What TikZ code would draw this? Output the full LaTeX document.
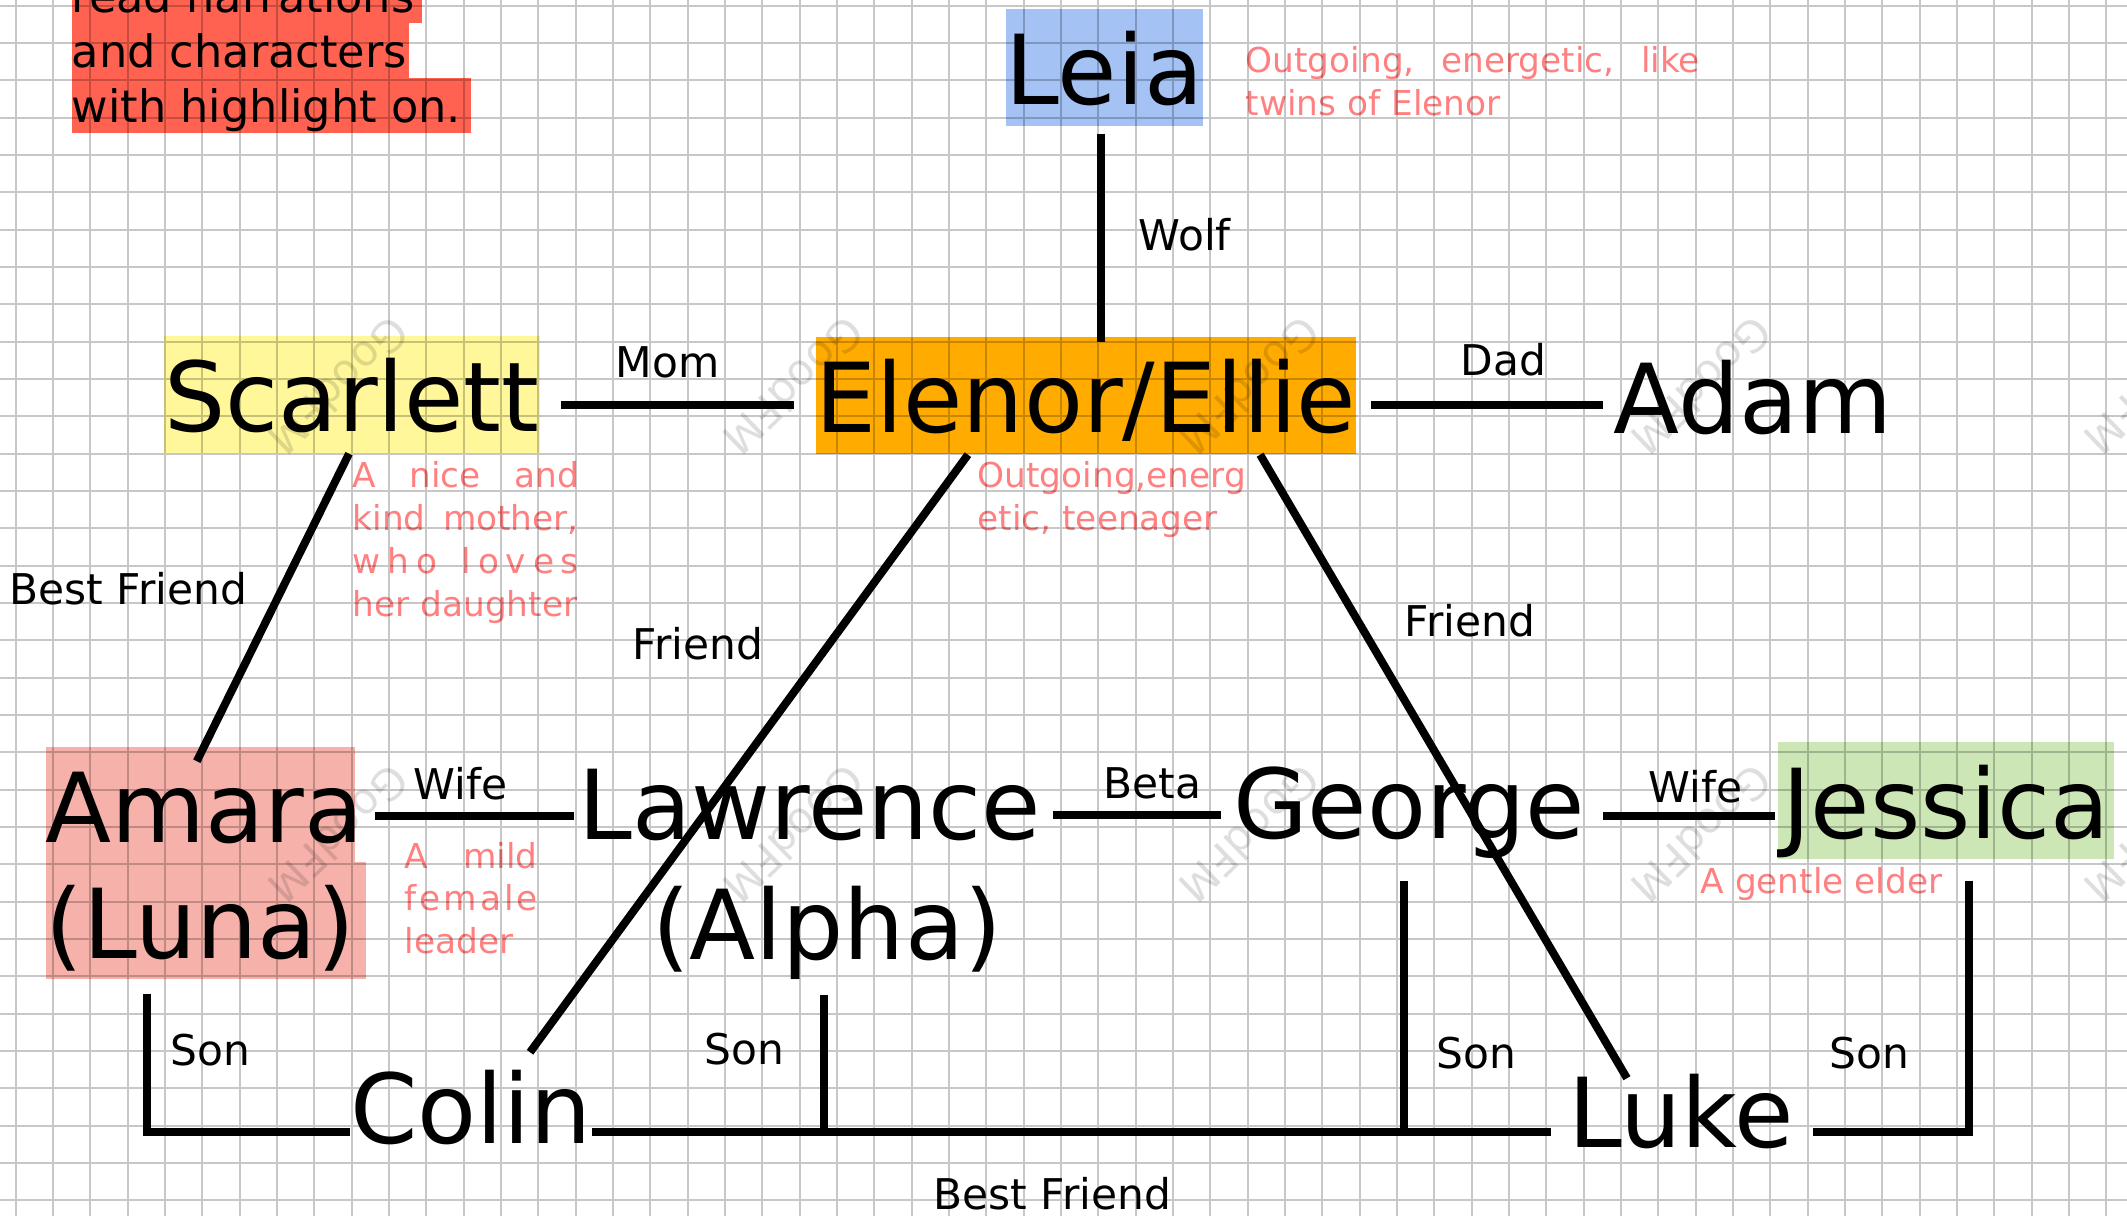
\documentclass[tikz,border=0pt]{standalone}
\usepackage{fontspec}
\setmainfont{DejaVu Sans}
\definecolor{leiablue}{RGB}{164,194,244}
\definecolor{ellieorange}{RGB}{255,171,0}
\definecolor{scarlettyellow}{RGB}{255,247,153}
\definecolor{amarapink}{RGB}{246,178,170}
\definecolor{jessicagreen}{RGB}{205,230,182}
\definecolor{notered}{RGB}{255,98,80}
\definecolor{descpink}{RGB}{255,128,128}

\begin{document}
\begin{tikzpicture}
[
x=0.01cm, y=-0.01cm,
person/.style={rectangle, anchor=base, inner sep=0, text height=0.96cm, text depth=0.21cm, font=\fontsize{27.45}{33}\selectfont},
rel/.style={anchor=base west, inner sep=0, font=\fontsize{12.04}{14.5}\selectfont},
desc/.style={anchor=base west, inner sep=0, text=descpink, font=\fontsize{9.76}{12.2}\selectfont},
note/.style={anchor=base west, inner sep=0, fill=notered, text height=0.45cm, text depth=0.10cm, font=\fontsize{12.7}{15.6}\selectfont},
wmark/.style={rotate=224, inner sep=0, text=black, text opacity=0.13, font=\fontsize{12.2}{14.5}\selectfont},
link/.style={draw=black, line width=0.08cm},
gridline/.style={draw=black, draw opacity=0.22, line width=0.02cm},
]

\useasboundingbox (0,0) rectangle (2127,1216);
\clip (0,0) rectangle (2127,1216);
\fill[white] (0,0) rectangle (2127,1216);

\node at (71,13) [note] (note1) {\makebox[3.50cm][l]{read narrations}};
\node at (71,68) [note] (note2) {\makebox[3.37cm][l]{and characters}};
\node at (71,123) [note] (note3) {\makebox[3.99cm][l]{with highlight on.}};

\node at (1104.5,105) [person, fill=leiablue] (leia) {Leia};
\node at (352,432) [person, fill=scarlettyellow] (scarlett) {Scarlett};
\node at (1086,433) [person, fill=ellieorange] (ellie) {Elenor/Ellie};
\node at (1753,434) [person] (adam) {Adam};

\node at (45,843) [person, anchor=base west, fill=amarapink] (amara) {\makebox[3.09cm][l]{Amara}};
\node at (45,958) [person, anchor=base west, fill=amarapink] (luna) {\makebox[3.20cm][l]{(Luna)}};
\node at (810,840) [person] (lawrence) {Lawrence};
\node at (827,959) [person] (alpha) {(Alpha)};
\node at (1409,838) [person] (george) {George};
\node at (1946,838) [person, inner xsep=0.04cm, fill=jessicagreen] (jessica) {Jessica};

\node at (471,1143) [person] (colin) {Colin};
\node at (1681,1147) [person] (luke) {Luke};

\node at (1245,73) [desc] (leiadesc) {\begin{tabular}[t]{@{}l@{}}\makebox[4.54cm][s]{Outgoing, energetic, like}\\twins of Elenor\end{tabular}};
\node at (977,488) [desc] (elliedesc) {\begin{tabular}[t]{@{}l@{}}Outgoing,energ\\etic, teenager\end{tabular}};
\node at (352,488) [desc] (scarlettdesc) {\begin{tabular}[t]{@{}l@{}}\makebox[2.26cm][s]{A nice and}\\\makebox[2.26cm][s]{kind mother,}\\\makebox[2.26cm][s]{w\hfill h\hfill o\hfill\ \hfill l\hfill o\hfill v\hfill e\hfill s}\\her daughter\end{tabular}};
\node at (404,868) [desc] (amaradesc) {\begin{tabular}[t]{@{}l@{}}\makebox[1.33cm][s]{A mild}\\\makebox[1.33cm][s]{f\hfill e\hfill m\hfill a\hfill l\hfill e}\\leader\end{tabular}};
\node at (1700,893) [desc] (jessicadesc) {A gentle elder};

\node at (1138,251) [rel] (wolf) {Wolf};
\node at (615,378) [rel] (mom) {Mom};
\node at (1460,376) [rel] (dad) {Dad};
\node at (9,605) [rel] (bestfriendamara) {Best Friend};
\node at (632,660) [rel] (friendcolin) {Friend};
\node at (1404,637) [rel] (friendluke) {Friend};
\node at (413,800) [rel] (wifeamara) {Wife};
\node at (1103,799) [rel] (beta) {Beta};
\node at (1648,803) [rel] (wifejessica) {Wife};
\node at (170,1065) [rel] (sonamara) {Son};
\node at (704,1064) [rel] (sonlawrence) {Son};
\node at (1436,1068) [rel] (songeorge) {Son};
\node at (1829,1068) [rel] (sonjessica) {Son};
\node at (933,1209) [rel] (bestfriendluke) {Best Friend};

\draw[link] ([xshift=-0.035cm,yshift=-0.07cm]leia.south) -- ([xshift=-0.035cm,yshift=-0.06cm]leia.south |- ellie.north);
\draw[link, shorten <=0.21cm, shorten >=0.21cm] ([yshift=0.27cm]scarlett.base east) -- ([yshift=0.27cm]scarlett.base east -| ellie.west);
\draw[link, shorten <=0.14cm, shorten >=0.10cm] ([yshift=0.28cm]ellie.base east) -- ([yshift=0.28cm]ellie.base east -| adam.west);
\draw[link] ([xshift=-0.03cm]scarlett.south) -- ([xshift=-0.035cm,yshift=-0.15cm]amara.north);
\draw[link] ([xshift=-1.18cm]ellie.south) -- ([xshift=0.59cm,yshift=-0.06cm]colin.north);
\draw[link] ([xshift=1.74cm]ellie.south) -- ([xshift=-0.54cm,yshift=-0.28cm]luke.north);

\draw[link, shorten <=0.19cm, shorten >=0.04cm] ([yshift=0.27cm]amara.base east) -- ([yshift=0.27cm]amara.base east -| lawrence.west);
\draw[link, shorten <=0.11cm, shorten >=0.11cm] ([yshift=0.25cm]lawrence.base east) -- ([yshift=0.25cm]lawrence.base east -| george.west);
\draw[link, shorten <=0.17cm, shorten >=0.03cm] ([yshift=0.22cm]george.base east) -- ([yshift=0.22cm]george.base east -| jessica.west);

\coordinate (bfl) at ([yshift=0.11cm]colin.base east);
\draw[link, shorten >=0.17cm] (bfl) -- (bfl -| luke.west);
\draw[link] ([xshift=-0.59cm,yshift=-0.14cm]luna.south) |- ([yshift=0.11cm]colin.base west);
\draw[link] ([xshift=-0.03cm,yshift=-0.14cm]alpha.south) -- ([xshift=-0.03cm]alpha.south |- bfl);
\draw[link] ([xshift=-0.05cm,yshift=-0.21cm]george.south) -- ([xshift=-0.05cm]george.south |- bfl);
\draw[link] ([xshift=0.23cm,yshift=-0.21cm]jessica.south) |- ([xshift=0.19cm]luke.east |- bfl);

\foreach \wx in {339,794,1250,1702,2155}
{
\node at (\wx,386) [wmark] (wmtop\wx) {GoodFM};
\node at (\wx,834) [wmark] (wmlow\wx) {GoodFM};
}

\draw[gridline] \foreach \i in {0,...,56} {(15.7+37.33*\i,0) -- (15.7+37.33*\i,1216)}
                \foreach \j in {0,...,32} {(0,5.7+37.33*\j) -- (2127,5.7+37.33*\j)};

\end{tikzpicture}
\end{document}
